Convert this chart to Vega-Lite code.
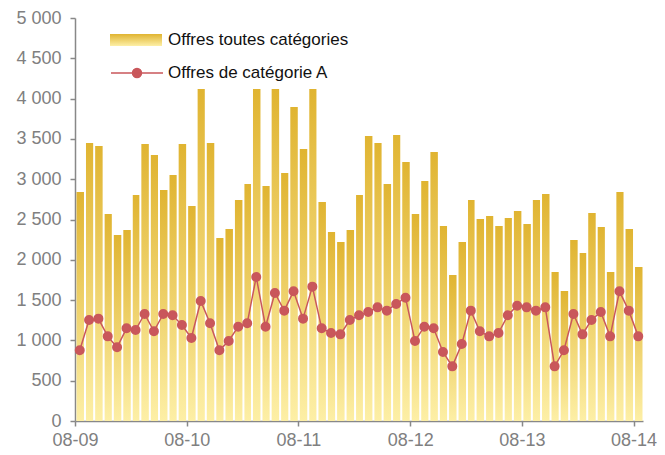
{
  "$schema": "https://vega.github.io/schema/vega-lite/v6.json",
  "autosize": "none",
  "width": 568,
  "height": 403,
  "padding": {"left": 75, "top": 18, "right": 22, "bottom": 34},
  "background": "white",
  "config": {
    "view": {"stroke": null},
    "font": "Liberation Sans",
    "axis": {"grid": false, "domainColor": "#888888", "tickColor": "#888888", "domainWidth": 1.5, "tickWidth": 1.5, "tickSize": 5, "labelColor": "#808080", "labelFont": "Liberation Sans", "labelFontSize": 18, "title": null}
  },
  "data": {"values": [
    {"date": "2009-08-01", "total": 2841, "catA": 877},
    {"date": "2009-09-01", "total": 3449, "catA": 1253},
    {"date": "2009-10-01", "total": 3412, "catA": 1270},
    {"date": "2009-11-01", "total": 2568, "catA": 1050},
    {"date": "2009-12-01", "total": 2308, "catA": 914},
    {"date": "2010-01-01", "total": 2370, "catA": 1150},
    {"date": "2010-02-01", "total": 2804, "catA": 1129},
    {"date": "2010-03-01", "total": 3437, "catA": 1328},
    {"date": "2010-04-01", "total": 3300, "catA": 1113},
    {"date": "2010-05-01", "total": 2866, "catA": 1328},
    {"date": "2010-06-01", "total": 3052, "catA": 1311},
    {"date": "2010-07-01", "total": 3437, "catA": 1191},
    {"date": "2010-08-01", "total": 2667, "catA": 1030},
    {"date": "2010-09-01", "total": 4119, "catA": 1489},
    {"date": "2010-10-01", "total": 3449, "catA": 1212},
    {"date": "2010-11-01", "total": 2270, "catA": 877},
    {"date": "2010-12-01", "total": 2382, "catA": 993},
    {"date": "2011-01-01", "total": 2742, "catA": 1170},
    {"date": "2011-02-01", "total": 2940, "catA": 1212},
    {"date": "2011-03-01", "total": 4119, "catA": 1787},
    {"date": "2011-04-01", "total": 2916, "catA": 1170},
    {"date": "2011-05-01", "total": 4119, "catA": 1588},
    {"date": "2011-06-01", "total": 3077, "catA": 1369},
    {"date": "2011-07-01", "total": 3896, "catA": 1609},
    {"date": "2011-08-01", "total": 3375, "catA": 1270},
    {"date": "2011-09-01", "total": 4119, "catA": 1667},
    {"date": "2011-10-01", "total": 2717, "catA": 1150},
    {"date": "2011-11-01", "total": 2345, "catA": 1092},
    {"date": "2011-12-01", "total": 2221, "catA": 1075},
    {"date": "2012-01-01", "total": 2370, "catA": 1253},
    {"date": "2012-02-01", "total": 2804, "catA": 1311},
    {"date": "2012-03-01", "total": 3536, "catA": 1352},
    {"date": "2012-04-01", "total": 3449, "catA": 1410},
    {"date": "2012-05-01", "total": 2940, "catA": 1369},
    {"date": "2012-06-01", "total": 3548, "catA": 1452},
    {"date": "2012-07-01", "total": 3213, "catA": 1530},
    {"date": "2012-08-01", "total": 2568, "catA": 993},
    {"date": "2012-09-01", "total": 2978, "catA": 1170},
    {"date": "2012-10-01", "total": 3337, "catA": 1150},
    {"date": "2012-11-01", "total": 2419, "catA": 856},
    {"date": "2012-12-01", "total": 1811, "catA": 678},
    {"date": "2013-01-01", "total": 2221, "catA": 955},
    {"date": "2013-02-01", "total": 2742, "catA": 1369},
    {"date": "2013-03-01", "total": 2506, "catA": 1113},
    {"date": "2013-04-01", "total": 2543, "catA": 1050},
    {"date": "2013-05-01", "total": 2419, "catA": 1092},
    {"date": "2013-06-01", "total": 2519, "catA": 1311},
    {"date": "2013-07-01", "total": 2605, "catA": 1431},
    {"date": "2013-08-01", "total": 2444, "catA": 1410},
    {"date": "2013-09-01", "total": 2742, "catA": 1369},
    {"date": "2013-10-01", "total": 2816, "catA": 1410},
    {"date": "2013-11-01", "total": 1849, "catA": 678},
    {"date": "2013-12-01", "total": 1613, "catA": 877},
    {"date": "2014-01-01", "total": 2246, "catA": 1328},
    {"date": "2014-02-01", "total": 2084, "catA": 1075},
    {"date": "2014-03-01", "total": 2581, "catA": 1253},
    {"date": "2014-04-01", "total": 2407, "catA": 1352},
    {"date": "2014-05-01", "total": 1849, "catA": 1050},
    {"date": "2014-06-01", "total": 2841, "catA": 1609},
    {"date": "2014-07-01", "total": 2382, "catA": 1369},
    {"date": "2014-08-01", "total": 1911, "catA": 1050}
  ]},
  "layer": [
    {
      "mark": {"type": "bar", "binSpacing": 2, "fill": {"gradient": "linear", "x1": 0, "y1": 0, "x2": 0, "y2": 1, "stops": [{"offset": 0, "color": "#e0b431"}, {"offset": 1, "color": "#fdefa6"}]}},
      "encoding": {
        "x": {"field": "date", "type": "temporal", "timeUnit": "utcyearmonth",
              "scale": {"type": "utc", "domain": [{"year": 2009, "month": 8, "date": 1, "utc": true}, {"year": 2014, "month": 9, "date": 1, "utc": true}]},
              "axis": {"values": [
                {"year": 2009, "month": 8, "date": 1, "utc": true},
                {"year": 2010, "month": 8, "date": 1, "utc": true},
                {"year": 2011, "month": 8, "date": 1, "utc": true},
                {"year": 2012, "month": 8, "date": 1, "utc": true},
                {"year": 2013, "month": 8, "date": 1, "utc": true},
                {"year": 2014, "month": 8, "date": 1, "utc": true}],
                "labelExpr": "utcFormat(datum.value, '%m-%y')", "labelPadding": 5, "labelFlush": false, "labelOverlap": false}},
        "y": {"field": "total", "type": "quantitative",
              "scale": {"domain": [0, 5000], "nice": false},
              "axis": {"values": [0, 500, 1000, 1500, 2000, 2500, 3000, 3500, 4000, 4500, 5000], "labelPadding": 9, "labelExpr": "replace(format(datum.value, ','), ',', ' ')"}},
        "opacity": {"datum": "Offres toutes catégories",
                 "scale": {"domain": ["Offres toutes catégories"], "range": [1]},
                 "legend": {"title": null, "orient": "none", "legendX": 35, "legendY": -4, "padding": 0,
                            "symbolType": "M-1,-0.23H1V0.23H-1Z", "symbolSize": 2704, "symbolStrokeWidth": 0,
                            "labelFont": "Liberation Sans", "labelFontSize": 17, "labelColor": "#111111", "labelOffset": 6, "labelLimit": 0,
                            "encode": {"symbols": {"update": {"fill": {"value": {"gradient": "linear", "x1": 0, "y1": 0, "x2": 0, "y2": 1, "stops": [{"offset": 0, "color": "#e0b431"}, {"offset": 1, "color": "#fdefa6"}]}}, "stroke": {"value": "transparent"}}}}}}
      }
    },
    {
      "mark": {"type": "line", "strokeWidth": 1.5},
      "encoding": {
        "x": {"field": "date", "type": "temporal", "timeUnit": "utcyearmonth", "bandPosition": 0.5},
        "y": {"field": "catA", "type": "quantitative"},
        "stroke": {"datum": "Offres de catégorie A",
                   "scale": {"domain": ["Offres de catégorie A"], "range": ["#c9575b"]},
                   "legend": {"title": null, "orient": "none", "legendX": 35, "legendY": 28, "padding": 0,
                              "symbolType": "M-1,0H1M0.173,0A0.173,0.173,0,1,1,-0.173,0A0.173,0.173,0,1,1,0.173,0Z", "symbolSize": 2704, "symbolStrokeWidth": 1.5,
                              "labelFont": "Liberation Sans", "labelFontSize": 17, "labelColor": "#111111", "labelOffset": 4, "labelLimit": 0,
                              "encode": {"symbols": {"update": {"fill": {"value": "#c9575b"}}}}}}
      }
    },
    {
      "mark": {"type": "point", "filled": true, "size": 64, "fill": "#c9575b", "opacity": 1},
      "encoding": {
        "x": {"field": "date", "type": "temporal", "timeUnit": "utcyearmonth", "bandPosition": 0.5},
        "y": {"field": "catA", "type": "quantitative"},
        "stroke": {"datum": "Offres de catégorie A"}
      }
    }
  ]
}
